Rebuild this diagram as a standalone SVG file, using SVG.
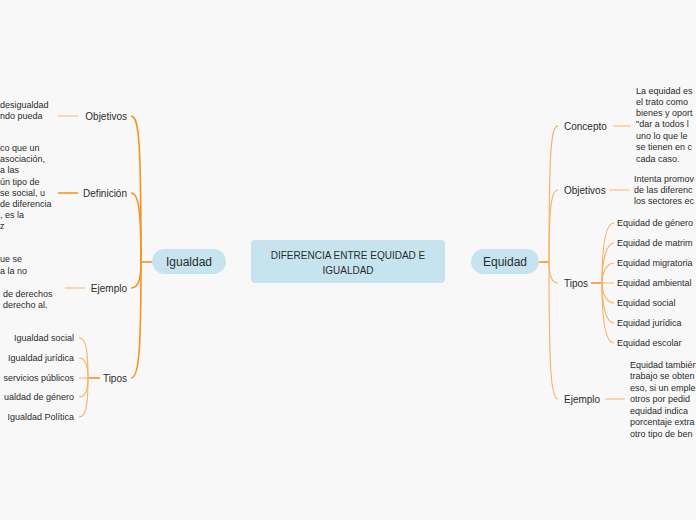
<svg xmlns="http://www.w3.org/2000/svg" width="696" height="520" viewBox="0 0 696 520">
<defs>
<style>
text{font-family:"Liberation Sans",Arial,sans-serif;fill:#2b2b2b;}
.lbl{font-size:10px;}
.sm{font-size:9px;}
.title{font-size:12px;}
.ctr{font-size:10px;}
.pill{fill:#c6e4f0;}
.main{fill:none;stroke:#f7941d;stroke-width:1.6;}
.sub{fill:none;stroke:#f9b05e;stroke-width:1.1;}
.lead{fill:none;stroke:#fbc48c;stroke-width:1.3;}
</style>
<linearGradient id="gL" x1="1" y1="0" x2="0" y2="0"><stop offset="0" stop-color="#fcd3a6"/><stop offset="1" stop-color="#f7941d"/></linearGradient>
<linearGradient id="gR" x1="0" y1="0" x2="1" y2="0"><stop offset="0" stop-color="#fcd3a6"/><stop offset="1" stop-color="#f7941d"/></linearGradient>
</defs>
<rect x="0" y="0" width="696" height="520" fill="#f8f8f8"/>
<g id="connectors">
<path d="M251,262 H226" stroke="url(#gL)" stroke-width="2" fill="none"/>
<path d="M445,262 H471" stroke="url(#gR)" stroke-width="2" fill="none"/>
<path d="M152,262 H141" class="main" stroke-width="2"/>
<path d="M539,262 H549" class="main" stroke-width="2"/>
<path d="M141,262 C141,140 139,116 131,116" class="main"/>
<path d="M141,262 C141,212 139,193 131,193" class="main"/>
<path d="M141,262 C141,278 139,288 131,288" class="main"/>
<path d="M141,262 C141,350 139,378 131,378" class="main"/>
<path d="M549,262 C549,150 551,126 558,126" class="sub"/>
<path d="M549,262 C549,210 551,190 558,190" class="sub"/>
<path d="M549,262 C549,272 551,283 558,283" class="sub"/>
<path d="M549,262 C549,370 551,399 558,399" class="sub"/>
<path d="M58,116 H78" class="lead"/>
<path d="M58,193 H78" class="main" stroke-width="1.2"/>
<path d="M65,288 H85" class="lead"/>
<path d="M100,378 H88" class="main" stroke-width="1.8"/>
<path d="M79,378 H88" class="lead"/>
<path d="M88,378 C88,350 86,338 79,338" class="sub"/>
<path d="M88,378 C88,366 86,358 79,358" class="sub"/>
<path d="M88,378 C88,388 86,397 79,397" class="sub"/>
<path d="M88,378 C88,405 86,417 79,417" class="sub"/>
<path d="M613,126 H631" class="lead"/>
<path d="M609,190 H629" class="lead"/>
<path d="M605,399 H625" class="lead"/>
<path d="M591,283 H602" class="main" stroke-width="1.3"/>
<path d="M602,283 H614" class="lead"/>
<path d="M602,283 C602,240 607,223 614,223" class="sub" stroke="#fcc99a"/>
<path d="M602,283 C602,258 607,243 614,243" class="sub" stroke="#fcc99a"/>
<path d="M602,283 C602,272 607,263 614,263" class="sub" stroke="#fcc99a"/>
<path d="M602,283 C602,294 607,303 614,303" class="sub" stroke="#fcc99a"/>
<path d="M602,283 C602,308 607,323 614,323" class="sub" stroke="#fcc99a"/>
<path d="M602,283 C602,326 607,343 614,343" class="sub" stroke="#fcc99a"/>
</g>
<g id="center">
<rect x="251" y="240" width="194" height="43" rx="4" fill="#c6e4f0"/>
<text class="ctr" x="348" y="259" text-anchor="middle">DIFERENCIA ENTRE EQUIDAD E</text>
<text class="ctr" x="348" y="274" text-anchor="middle">IGUALDAD</text>
</g>
<g id="igualdad">
<rect class="pill" x="152" y="249" width="74" height="25" rx="12.5"/>
<text class="title" x="189" y="266" text-anchor="middle">Igualdad</text>
</g>
<g id="equidad">
<rect class="pill" x="471" y="249" width="68" height="25" rx="12.5"/>
<text class="title" x="505" y="266" text-anchor="middle">Equidad</text>
</g>
<g id="ig-objetivos">
<text class="lbl" x="127" y="119.5" text-anchor="end">Objetivos</text>
<text class="sm" x="0" y="108">desigualdad</text>
<text class="sm" x="0" y="119">ndo pueda</text>
</g>
<g id="ig-definicion">
<text class="lbl" x="127" y="196.5" text-anchor="end">Definición</text>
<text class="sm" x="0" y="151">co que un</text>
<text class="sm" x="0" y="162">asociación,</text>
<text class="sm" x="0" y="173">a las</text>
<text class="sm" x="0" y="185">ún tipo de</text>
<text class="sm" x="0" y="196">se social, u</text>
<text class="sm" x="0" y="207">de diferencia</text>
<text class="sm" x="0" y="218">, es la</text>
<text class="sm" x="0" y="229">z</text>
</g>
<g id="ig-ejemplo">
<text class="lbl" x="127" y="291.5" text-anchor="end">Ejemplo</text>
<text class="sm" x="0" y="262">ue se</text>
<text class="sm" x="0" y="274">a la no</text>
<text class="sm" x="3" y="297">de derechos</text>
<text class="sm" x="3" y="308">derecho al.</text>
</g>
<g id="ig-tipos">
<text class="lbl" x="127" y="381.5" text-anchor="end">Tipos</text>
<text class="sm" x="74" y="341" text-anchor="end">Igualdad social</text>
<text class="sm" x="74" y="361" text-anchor="end">Igualdad jurídica</text>
<text class="sm" x="74" y="381" text-anchor="end">servicios públicos</text>
<text class="sm" x="74" y="400" text-anchor="end">ualdad de género</text>
<text class="sm" x="74" y="420" text-anchor="end">Igualdad Política</text>
</g>
<g id="eq-concepto">
<text class="lbl" x="564" y="129.5">Concepto</text>
<text class="sm" x="636" y="94">La equidad es</text>
<text class="sm" x="636" y="105">el trato como</text>
<text class="sm" x="636" y="116">bienes y oport</text>
<text class="sm" x="636" y="127">"dar a todos l</text>
<text class="sm" x="636" y="139">uno lo que le</text>
<text class="sm" x="636" y="150">se tienen en c</text>
<text class="sm" x="636" y="162">cada caso.</text>
</g>
<g id="eq-objetivos">
<text class="lbl" x="564" y="193.5">Objetivos</text>
<text class="sm" x="634" y="182">Intenta promov</text>
<text class="sm" x="634" y="193">de las diferenc</text>
<text class="sm" x="634" y="204">los sectores ec</text>
</g>
<g id="eq-tipos">
<text class="lbl" x="564" y="286.5">Tipos</text>
<text class="sm" x="617" y="226">Equidad de género</text>
<text class="sm" x="617" y="246">Equidad de matrim</text>
<text class="sm" x="617" y="266">Equidad migratoria</text>
<text class="sm" x="617" y="286">Equidad ambiental</text>
<text class="sm" x="617" y="306">Equidad social</text>
<text class="sm" x="617" y="326">Equidad jurídica</text>
<text class="sm" x="617" y="346">Equidad escolar</text>
</g>
<g id="eq-ejemplo">
<text class="lbl" x="564" y="402.5">Ejemplo</text>
<text class="sm" x="630" y="368">Equidad también</text>
<text class="sm" x="630" y="379">trabajo se obten</text>
<text class="sm" x="630" y="391">eso, si un emple</text>
<text class="sm" x="630" y="402">otros por pedid</text>
<text class="sm" x="630" y="414">equidad indica</text>
<text class="sm" x="630" y="425">porcentaje extra</text>
<text class="sm" x="630" y="437">otro tipo de ben</text>
</g>
</svg>
